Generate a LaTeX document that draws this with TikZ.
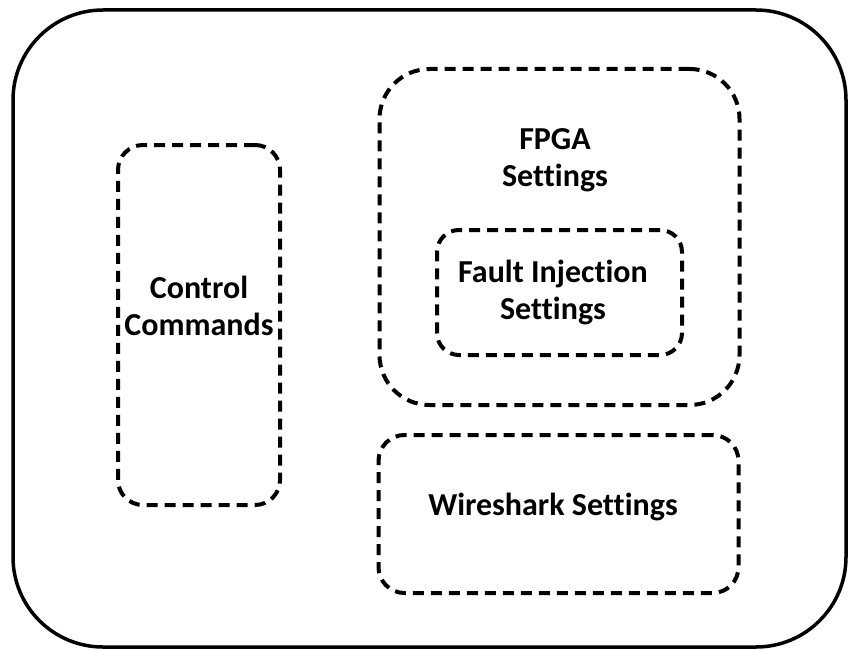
\documentclass[tikz,border=0pt]{standalone}
\usepackage{fontspec}
\setmainfont[Ligatures=NoCommon]{Carlito}
\begin{document}
\begin{tikzpicture}[x=1pt,y=-1pt,
  dbox/.style={draw=black,line width=4pt,dash pattern=on 11pt off 7pt,inner sep=0pt},
  lbl/.style={font=\fontsize{32}{37}\selectfont\bfseries,align=center,inner sep=0pt,anchor=base}]
\useasboundingbox (0,0) rectangle (848,650);
\node[draw=black,line width=3.5pt,rounded corners=90pt,inner sep=0pt,minimum width=833pt,minimum height=637pt] (outer) at (429.5,328.5) {};
\node[dbox,rounded corners=25pt,minimum width=162pt,minimum height=360pt] (cc) at (199,325) {};
\node[dbox,rounded corners=50pt,minimum width=360pt,minimum height=336pt] (fpga) at (559.5,237) {};
\node[dbox,rounded corners=22pt,minimum width=245pt,minimum height=125pt] (fi) at (559.5,292.5) {};
\node[dbox,rounded corners=26pt,minimum width=360pt,minimum height=158pt] (ws) at (558.5,514) {};
\node[lbl] (cct) at (199,335) {Control\\Commands};
\node[lbl] (fpgat) at (555,186) {FPGA\\Settings};
\node[lbl] (fit) at (553,319) {Fault Injection\\Settings};
\node[lbl] (wst) at (553,515) {Wireshark Settings};
\end{tikzpicture}
\end{document}
